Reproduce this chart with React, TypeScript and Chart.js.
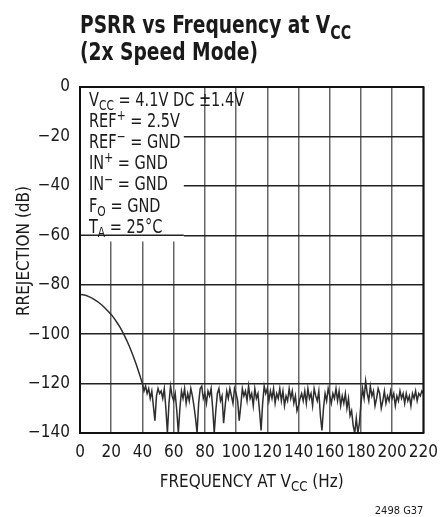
import React, { useEffect, useRef } from "react";
import { Chart, registerables } from "chart.js";

Chart.register(...registerables);

// Roll-off region (Hz, dB)
const rolloffFreq = [0, 2, 4, 6, 8, 10, 12, 14, 16, 18, 20, 22, 24, 26, 28, 30, 32, 34, 36, 38, 40];
const rolloffDb = [-84, -84.1, -84.4, -84.9, -85.5, -86.3, -87.2, -88.2, -89.4, -90.7, -92, -93.7, -95.6, -97.6, -100, -102.6, -105.5, -108.7, -112.2, -116, -120];

// Noise floor region, 41..220 Hz at 1 Hz spacing
const noiseStartHz = 41;
const noiseDb = [
  -123, -121, -124, -122, -126, -123, -129, -135, -125, -122,
  -124, -123, -126, -122, -130, -140, -128, -121, -125, -127,
  -124, -131, -140, -130, -123, -126, -122, -128, -124, -127,
  -122, -125, -129, -134, -140, -128, -122, -121, -126, -124,
  -128, -123, -125, -122, -130, -140, -131, -124, -122, -127,
  -125, -136, -129, -123, -126, -122, -125, -128, -122, -124,
  -127, -135, -129, -122, -125, -123, -127, -121, -126, -124,
  -129, -122, -126, -124, -131, -139, -128, -121, -124, -122,
  -127, -123, -126, -122, -128, -124, -126, -122, -127, -123,
  -129, -125, -127, -122, -126, -123, -128, -125, -131, -129,
  -126, -124, -127, -123, -128, -122, -126, -124, -129, -122,
  -125, -127, -123, -133, -139, -130, -124, -127, -122, -125,
  -128, -124, -126, -122, -127, -123, -129, -125, -128, -124,
  -130, -126, -133, -131, -137, -140, -134, -140, -136, -128,
  -122, -126, -119, -124, -127, -121, -125, -123, -129, -126,
  -122, -124, -130, -127, -123, -128, -125, -127, -123, -126,
  -124, -129, -125, -127, -123, -126, -124, -128, -124, -127,
  -125, -129, -124, -126, -123, -127, -124, -125, -123, -124,
];

const xTicks = [0, 20, 40, 60, 80, 100, 120, 140, 160, 180, 200, 220];
const yTicks = [0, -20, -40, -60, -80, -100, -120, -140];

const titleLine1 = "PSRR vs Frequency at V";
const titleLine1Sub = "CC";
const titleLine2 = "(2x Speed Mode)";
const yTitle = "RREJECTION (dB)";
const footnote = "2498 G37";

const FONT = "'DejaVu Sans Condensed', 'Liberation Sans Narrow', sans-serif";

type Seg = { t: string; sub?: boolean; sup?: boolean };

function drawSegs(
  ctx: CanvasRenderingContext2D,
  segs: Seg[],
  x: number,
  y: number,
  size: number,
  bold = false,
  align: "left" | "center" = "left",
  sx = 1
) {
  const w = bold ? "bold " : "";
  const small = Math.round(size * 0.75);
  let total = 0;
  for (const s of segs) {
    ctx.font = `${w}${s.sub || s.sup ? small : size}px ${FONT}`;
    total += ctx.measureText(s.t).width;
  }
  ctx.save();
  ctx.translate(x, y);
  ctx.scale(sx, 1);
  let cx = align === "center" ? -total / 2 : 0;
  ctx.textAlign = "left";
  ctx.textBaseline = "alphabetic";
  for (const s of segs) {
    const sz = s.sub || s.sup ? small : size;
    ctx.font = `${w}${sz}px ${FONT}`;
    const dy = s.sub ? size * 0.22 : s.sup ? -size * 0.36 : 0;
    ctx.fillText(s.t, cx, dy);
    cx += ctx.measureText(s.t).width;
  }
  ctx.restore();
}

const boxLines: Seg[][] = [
  [{ t: "V" }, { t: "CC", sub: true }, { t: " = 4.1V DC \u00B11.4V" }],
  [{ t: "REF" }, { t: "+", sup: true }, { t: " = 2.5V" }],
  [{ t: "REF" }, { t: "\u2212", sup: true }, { t: " = GND" }],
  [{ t: "IN" }, { t: "+", sup: true }, { t: " = GND" }],
  [{ t: "IN" }, { t: "\u2212", sup: true }, { t: " = GND" }],
  [{ t: "F" }, { t: "O", sub: true }, { t: " = GND" }],
  [{ t: "T" }, { t: "A", sub: true }, { t: " = 25\u00B0C" }],
];

const decorPlugin = {
  id: "decor",
  beforeDatasetsDraw(chart: any) {
    const { ctx, chartArea, scales } = chart;
    const x = scales.x, y = scales.y;
    ctx.save();
    const bx0 = chartArea.left + 1;
    const bx1 = x.getPixelForValue(66.5);
    const by0 = chartArea.top + 1;
    const by1 = y.getPixelForValue(-62.5);
    ctx.fillStyle = "#ffffff";
    ctx.fillRect(bx0, by0, bx1 - bx0, by1 - by0);
    ctx.strokeStyle = "#222";
    ctx.lineWidth = 1.5;
    const y60 = y.getPixelForValue(-60);
    ctx.beginPath();
    ctx.moveTo(chartArea.left, y60);
    ctx.lineTo(bx1, y60);
    ctx.stroke();
    ctx.fillStyle = "#1a1a1a";
    boxLines.forEach((segs, i) => {
      drawSegs(ctx, segs, chartArea.left + 9, chartArea.top + 19 + i * 21.1, 19, false, "left", 0.85);
    });
    ctx.restore();
  },
  afterDatasetsDraw(chart: any) {
    const { ctx, chartArea } = chart;
    ctx.save();
    ctx.strokeStyle = "#111";
    ctx.lineWidth = 2;
    ctx.strokeRect(chartArea.left, chartArea.top, chartArea.right - chartArea.left, chartArea.bottom - chartArea.top);
    ctx.restore();
  },
  afterDraw(chart: any) {
    const { ctx, chartArea } = chart;
    ctx.save();
    ctx.fillStyle = "#1a1a1a";
    drawSegs(ctx, [{ t: titleLine1 }, { t: titleLine1Sub, sub: true }], 80, 33, 25, true, "left", 0.83);
    drawSegs(ctx, [{ t: titleLine2 }], 80, 60, 25, true, "left", 0.83);
    drawSegs(ctx, [{ t: "FREQUENCY AT V" }, { t: "CC", sub: true }, { t: " (Hz)" }], (chartArea.left + chartArea.right) / 2, 487, 18, false, "center", 0.94);
    ctx.translate(29, 251);
    ctx.rotate(-Math.PI / 2);
    ctx.font = `17px ${FONT}`;
    ctx.textAlign = "center";
    ctx.textBaseline = "alphabetic";
    ctx.fillText(yTitle, 0, 0);
    ctx.setTransform(1, 0, 0, 1, 0, 0);
    ctx.font = `11px ${FONT}`;
    ctx.textAlign = "right";
    ctx.fillText(footnote, chartArea.right, 514);
    ctx.restore();
  },
};

export default function App() {
  const ref = useRef<HTMLCanvasElement | null>(null);
  useEffect(() => {
    if (!ref.current) return;
    const points: { x: number; y: number }[] = [];
    rolloffFreq.forEach((f, i) => points.push({ x: f, y: rolloffDb[i] }));
    noiseDb.forEach((v, i) => points.push({ x: noiseStartHz + i, y: v }));
    const chart = new Chart(ref.current, {
      type: "line",
      data: {
        datasets: [
          {
            data: points,
            borderColor: "#2e2e2e",
            borderWidth: 1.5,
            pointRadius: 0,
            tension: 0,
            fill: false,
          },
        ],
      },
      options: {
        responsive: false,
        animation: false,
        layout: { padding: { top: 87, right: 15, left: 0, bottom: 0 } },
        plugins: { legend: { display: false }, tooltip: { enabled: false }, title: { display: false } },
        scales: {
          x: {
            type: "linear",
            min: 0,
            max: 220,
            afterBuildTicks: (s: any) => {
              s.ticks = xTicks.map((v) => ({ value: v }));
            },
            afterFit: (s: any) => {
              s.height = 84;
            },
            ticks: {
              font: { family: FONT, size: 17 },
              color: "#1a1a1a",
              padding: 9,
              maxRotation: 0,
              autoSkip: false,
            },
            grid: { color: "#666", lineWidth: 1.5, drawTicks: false },
            border: { display: false },
          },
          y: {
            type: "linear",
            min: -140,
            max: 0,
            afterBuildTicks: (s: any) => {
              s.ticks = yTicks.map((v) => ({ value: v }));
            },
            afterFit: (s: any) => {
              s.width = 80;
            },
            ticks: {
              font: { family: FONT, size: 17 },
              color: "#1a1a1a",
              padding: 10,
              autoSkip: false,
              callback: (v: any) => (v < 0 ? "\u2212" + Math.abs(v) : String(v)),
            },
            grid: { color: "#222", lineWidth: 1.5, drawTicks: false },
            border: { display: false },
          },
        },
      },
      plugins: [decorPlugin],
    });
    return () => chart.destroy();
  }, []);
  return (
    <div style={{ position: "fixed", left: 0, top: 0, width: 447, height: 517, background: "#fff" }}>
      <canvas ref={ref} width={447} height={517} style={{ width: 447, height: 517, display: "block" }} />
    </div>
  );
}
